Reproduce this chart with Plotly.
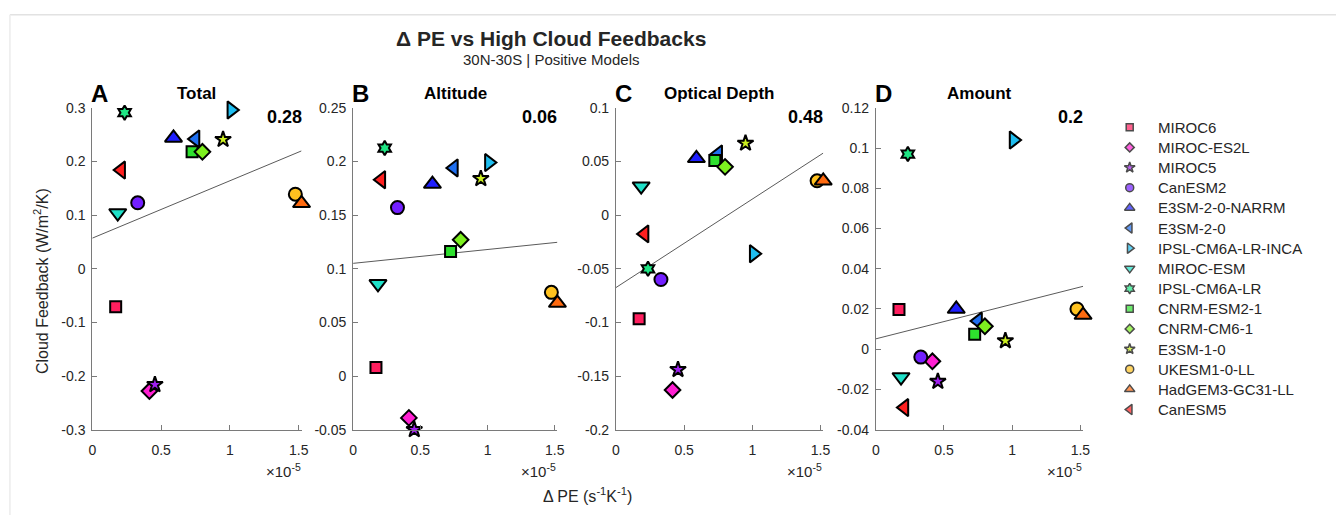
import numpy as np
import plotly.graph_objects as go

# ---- data -------------------------------------------------------------
models = ["MIROC6", "MIROC-ES2L", "MIROC5", "CanESM2", "E3SM-2-0-NARRM",
          "E3SM-2-0", "IPSL-CM6A-LR-INCA", "MIROC-ESM", "IPSL-CM6A-LR",
          "CNRM-ESM2-1", "CNRM-CM6-1", "E3SM-1-0", "UKESM1-0-LL",
          "HadGEM3-GC31-LL", "CanESM5"]

# change in precipitation efficiency, in units of 1e-5 s^-1 K^-1
dpe = [0.17, 0.415, 0.455, 0.33, 0.59, 0.75, 1.01, 0.185, 0.235,
       0.725, 0.80, 0.95, 1.475, 1.52, 0.21]

fb_total = [-0.071, -0.228, -0.216, 0.123, 0.244, 0.242, 0.296, 0.104,
            0.291, 0.218, 0.218, 0.241, 0.139, 0.122, 0.184]
fb_altitude = [0.008, -0.039, -0.050, 0.157, 0.179, 0.194, 0.199, 0.086,
               0.2125, 0.116, 0.127, 0.184, 0.078, 0.068, 0.183]
fb_optical = [-0.0965, -0.163, -0.144, -0.060, 0.053, 0.057, -0.036, 0.027,
              -0.050, 0.051, 0.045, 0.067, 0.032, 0.032, -0.0175]
fb_amount = [0.0198, -0.006, -0.016, -0.0039, 0.020, 0.014, 0.104, -0.0138,
             0.097, 0.0074, 0.0114, 0.0042, 0.020, 0.017, -0.029]

panel_letters = ["A", "B", "C", "D"]
panel_titles = ["Total", "Altitude", "Optical Depth", "Amount"]
corr_labels = ["0.28", "0.06", "0.48", "0.2"]

x_ticks = [0, 0.5, 1, 1.5]
x_ticktext = ["0", "0.5", "1", "1.5"]
y_ticks = [
    [-0.3, -0.2, -0.1, 0, 0.1, 0.2, 0.3],
    [-0.05, 0, 0.05, 0.1, 0.15, 0.2, 0.25],
    [-0.2, -0.15, -0.1, -0.05, 0, 0.05, 0.1],
    [-0.04, -0.02, 0, 0.02, 0.04, 0.06, 0.08, 0.1, 0.12],
]
y_ticktext = [
    ["-0.3", "-0.2", "-0.1", "0", "0.1", "0.2", "0.3"],
    ["-0.05", "0", "0.05", "0.1", "0.15", "0.2", "0.25"],
    ["-0.2", "-0.15", "-0.1", "-0.05", "0", "0.05", "0.1"],
    ["-0.04", "-0.02", "0", "0.02", "0.04", "0.06", "0.08", "0.1", "0.12"],
]

# ---- styling ------------------------------------------------------------
colors = ["#FF1F5F", "#FF1FD2", "#A01FF0", "#731FFF", "#1F1FFF",
          "#1F6FF0", "#1FBEF0", "#1FE0C8", "#1FE684", "#2EE02E",
          "#7DF01F", "#CCF01F", "#FFC21F", "#FF6A10", "#FF1F1F"]
symbols = ["square", "diamond", "star", "circle", "triangle-up",
           "triangle-left", "triangle-right", "triangle-down", "hexagram",
           "square", "diamond", "star", "circle", "triangle-up",
           "triangle-left"]
sym_size = {"square": 11, "diamond": 12, "star": 12, "circle": 13,
            "triangle-up": 15, "triangle-left": 15, "triangle-right": 15,
            "triangle-down": 15, "hexagram": 11}
leg_size = {"square": 7, "diamond": 7, "star": 8, "circle": 8,
            "triangle-up": 9, "triangle-left": 9, "triangle-right": 9,
            "triangle-down": 9, "hexagram": 8}

W, H = 1343, 523
FONT = "Liberation Sans, Arial, Helvetica, sans-serif"
TXT = "#262626"
AXC = "#7a7a7a"

# plot-area boxes in pixels: (left, right)
x_px = [(89, 300), (352, 558), (617, 826), (879, 1088)]
top_px, bot_px = 103, 435
x_range = [0, 1.52]


def px_x(p):
    return p / W


def px_y(p):
    return 1 - p / H


fig = go.Figure()
series = [fb_total, fb_altitude, fb_optical, fb_amount]

layout_axes = {}
annotations = []
for k, fb in enumerate(series):
    xa = "x" if k == 0 else f"x{k + 1}"
    ya = "y" if k == 0 else f"y{k + 1}"
    xkey = "xaxis" if k == 0 else f"xaxis{k + 1}"
    ykey = "yaxis" if k == 0 else f"yaxis{k + 1}"

    # least-squares fit line
    slope, icpt = np.polyfit(np.array(dpe), np.array(fb), 1)
    xl = np.array(x_range)
    fig.add_trace(go.Scatter(x=xl, y=slope * xl + icpt, mode="lines",
                             line=dict(color="#5a5a5a", width=1),
                             xaxis=xa, yaxis=ya, showlegend=False,
                             hoverinfo="skip"))
    for i, m in enumerate(models):
        fig.add_trace(go.Scatter(
            x=[dpe[i]], y=[fb[i]], mode="markers", name=m, cliponaxis=False,
            marker=dict(symbol=symbols[i], color=colors[i],
                        size=sym_size[symbols[i]],
                        line=dict(color="black", width=2)),
            xaxis=xa, yaxis=ya, showlegend=False))

    yt = y_ticks[k]
    layout_axes[xkey] = dict(
        domain=[px_x(x_px[k][0]), px_x(x_px[k][1])], range=x_range,
        anchor=ya, tickvals=x_ticks, ticktext=x_ticktext, ticks="inside",
        ticklen=5, tickcolor=AXC, showline=True, linecolor=AXC,
        linewidth=1, showgrid=False, zeroline=False, fixedrange=True,
        ticklabelstandoff=8, tickfont=dict(family=FONT, size=14, color=TXT))
    layout_axes[ykey] = dict(
        domain=[px_y(bot_px), px_y(top_px)], range=[yt[0], yt[-1]],
        anchor=xa, tickvals=yt, ticktext=y_ticktext[k], ticks="inside",
        ticklen=5, tickcolor=AXC, showline=True, linecolor=AXC,
        linewidth=1, showgrid=False, zeroline=False, fixedrange=True,
        ticklabelstandoff=3, tickfont=dict(family=FONT, size=14, color=TXT))

    # panel letter, title, correlation and exponent
    annotations.append(dict(text=f"<b>{panel_letters[k]}</b>", x=px_x(x_px[k][0] - 3),
                            y=px_y(88), xanchor="left", yanchor="middle",
                            font=dict(family=FONT, size=24, color="black")))
    annotations.append(dict(text=f"<b>{panel_titles[k]}</b>",
                            x=px_x((x_px[k][0] + x_px[k][1]) / 2), y=px_y(88),
                            xanchor="center", yanchor="middle",
                            font=dict(family=FONT, size=17, color="black")))
    annotations.append(dict(text=f"<b>{corr_labels[k]}</b>",
                            x=px_x(x_px[k][1] + 2), y=px_y(112),
                            xanchor="right", yanchor="middle",
                            font=dict(family=FONT, size=18, color="black")))
    annotations.append(dict(text="\u00d710<sup>-5</sup>",
                            x=px_x(x_px[k][1] + 1), y=px_y(477),
                            xanchor="right", yanchor="middle",
                            font=dict(family=FONT, size=15, color=TXT)))

# ---- legend drawn on its own axis ---------------------------------------
leg_x0, leg_x1 = 1120, 1343
leg_top, leg_step = 123, 20.8
leg_rows = list(range(len(models)))
leg_bot = leg_top + leg_step * (len(models) - 1)
fig.add_trace(go.Scatter(
    x=[15] * len(models), y=leg_rows, mode="markers",
    marker=dict(symbol=symbols, color=colors,
                size=[leg_size[s] for s in symbols],
                line=dict(color="black", width=1.5)),
    xaxis="x5", yaxis="y5", showlegend=False, hoverinfo="skip"))
layout_axes["xaxis5"] = dict(domain=[px_x(leg_x0), 1], range=[0, leg_x1 - leg_x0],
                             visible=False, fixedrange=True)
layout_axes["yaxis5"] = dict(domain=[px_y(leg_bot + leg_step / 2), px_y(leg_top - leg_step / 2)],
                             range=[len(models) - 0.5, -0.5], visible=False,
                             fixedrange=True, anchor="x5")
for i, m in enumerate(models):
    annotations.append(dict(text=m, x=42, y=i, xref="x5", yref="y5",
                            xanchor="left", yanchor="middle", showarrow=False,
                            font=dict(family=FONT, size=15, color=TXT)))

# ---- figure titles ------------------------------------------------------
annotations += [
    dict(text="<b>\u0394 PE vs High Cloud Feedbacks</b>", x=px_x(552), y=px_y(31),
         xanchor="center", yanchor="middle",
         font=dict(family=FONT, size=21, color=TXT)),
    dict(text="30N-30S | Positive Models", x=px_x(552), y=px_y(53),
         xanchor="center", yanchor="middle",
         font=dict(family=FONT, size=15, color=TXT)),
    dict(text="\u0394 PE (s<sup>-1</sup>K<sup>-1</sup>)", x=px_x(588), y=px_y(502),
         xanchor="center", yanchor="middle",
         font=dict(family=FONT, size=16, color=TXT)),
    dict(text="Cloud Feedback (W/m<sup>2</sup>/K)", x=px_x(38), y=px_y(282),
         xanchor="center", yanchor="middle", textangle=-90,
         font=dict(family=FONT, size=16, color=TXT)),
]
for a in annotations:
    a.setdefault("xref", "paper")
    a.setdefault("yref", "paper")
    a["showarrow"] = False

fig.update_layout(
    width=W, height=H, margin=dict(l=0, r=0, t=0, b=0),
    paper_bgcolor="white", plot_bgcolor="rgba(0,0,0,0)",
    showlegend=False, annotations=annotations,
    shapes=[
        dict(type="line", xref="paper", yref="paper", x0=px_x(6), x1=1,
             y0=px_y(7), y1=px_y(7), line=dict(color="#e2e2e2", width=1.5)),
        dict(type="line", xref="paper", yref="paper", x0=px_x(6), x1=px_x(6),
             y0=px_y(7), y1=0, line=dict(color="#ececec", width=1.5)),
    ],
    **layout_axes,
)

# the page body keeps no margin so the figure fills the window exactly
fig.write_html("out.html",
               post_script="document.body.style.margin='0';"
                           "document.body.style.overflow='hidden';")
